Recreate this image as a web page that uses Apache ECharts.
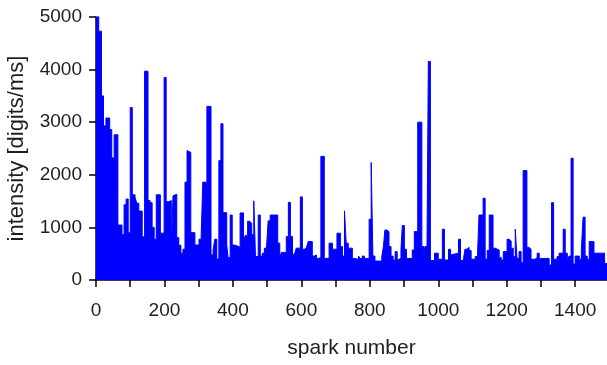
<!DOCTYPE html>
<html>
<head>
<meta charset="utf-8">
<title>Spark intensity</title>
<script src="https://cdn.jsdelivr.net/npm/echarts@6/dist/echarts.min.js"></script>
<style>
  html, body { margin: 0; padding: 0; background: #fff; }
  #chart { width: 607px; height: 365px; }
</style>
</head>
<body>
<div id="chart"></div>
<script>
// First spark number of each bin; the intensity holds until the next bin starts.
const binStart = [
  0, 8, 16, 22, 29, 40, 46, 53, 64, 76, 82, 88, 94, 100, 106, 114, 119, 125, 135, 142,
  152, 158, 164, 170, 176, 188, 199, 205, 213, 220, 225, 230, 236, 242, 248, 254, 260, 266, 271, 277,
  289, 301, 307, 312, 324, 336, 342, 347, 353, 359, 365, 371, 382, 386, 392, 398, 404, 414, 421, 431,
  436, 443, 449, 455, 461, 466, 474, 480, 486, 492, 498, 503, 509, 531, 537, 542, 556, 562, 568, 574,
  580, 585, 597, 603, 609, 615, 620, 632, 638, 644, 650, 657, 667, 681, 691, 704, 714, 720, 726, 731,
  737, 749, 755, 767, 772, 778, 784, 798, 804, 809, 815, 835, 840, 844, 850, 856, 862, 868, 874, 880,
  885, 891, 895, 901, 907, 924, 930, 940, 952, 958, 961, 967, 971, 977, 989, 1000, 1012, 1018, 1030, 1036,
  1041, 1059, 1065, 1073, 1078, 1084, 1090, 1096, 1108, 1114, 1119, 1131, 1137, 1143, 1149, 1160, 1166, 1178, 1184, 1190,
  1201, 1207, 1213, 1219, 1225, 1230, 1236, 1242, 1248, 1259, 1265, 1271, 1283, 1289, 1295, 1324, 1331, 1337, 1347, 1353,
  1365, 1371, 1377, 1382, 1388, 1394, 1400, 1412, 1418, 1423, 1429, 1435, 1441, 1455, 1486
];

// Intensity of each bin, digits/ms.
const intensity = [
  5050, 4730, 3500, 2930, 3080, 2860, 2320, 2760, 1045, 860, 1430, 1540, 900, 3280, 1620, 1575, 1460, 1310, 820, 3970,
  1510, 1470, 1000, 775, 1620, 890, 3850, 1490, 1510, 585, 1600, 1630, 805, 660, 510, 585, 1860, 2460, 2425, 900,
  665, 775, 750, 1860, 3300, 475, 560, 775, 400, 2270, 2970, 1280, 665, 425, 1235, 665, 645, 620, 1275, 760,
  845, 1115, 1080, 860, 1505, 445, 1235, 455, 510, 605, 635, 1125, 1235, 700, 445, 525, 825, 1475, 825, 490,
  525, 605, 1580, 585, 620, 585, 730, 455, 475, 410, 430, 2350, 410, 700, 585, 890, 635, 455, 1315, 700,
  605, 410, 395, 455, 410, 455, 410, 1155, 2235, 455, 360, 445, 645, 950, 920, 635, 455, 380, 540, 380,
  410, 585, 1035, 585, 410, 570, 920, 3000, 635, 445, 635, 585, 4155, 370, 510, 395, 965, 380, 585, 475,
  510, 775, 370, 395, 585, 620, 560, 395, 445, 370, 1235, 1555, 395, 560, 1235, 605, 570, 430, 380, 540,
  775, 740, 605, 445, 965, 410, 540, 330, 2080, 620, 585, 395, 430, 510, 410, 285, 1470, 395, 445, 510,
  965, 510, 370, 455, 2315, 305, 455, 395, 560, 1195, 455, 395, 730, 510, 315
];

const lastSpark = 1493;

// Step outline: each bin value starts at its bin start and runs to the next.
const stepData = binStart.map((s, i) => [s, intensity[i]]);
stepData.push([lastSpark, intensity[intensity.length - 1]]);

const textColor = '#1e1e1e';
const fontFamily = '"Liberation Sans", Arial, sans-serif';

const chart = echarts.init(document.getElementById('chart'), null, { renderer: 'canvas' });
chart.setOption({
  animation: false,
  backgroundColor: '#ffffff',
  grid: { left: 96, right: 0, top: 17, bottom: 85, containLabel: false, outerBoundsMode: 'none' },
  xAxis: {
    type: 'value',
    min: 0,
    max: lastSpark,
    interval: 100,
    name: 'spark number',
    nameLocation: 'middle',
    nameGap: 58,
    nameTextStyle: { color: textColor, fontSize: 21, fontFamily: fontFamily },
    axisLine: { show: true, onZero: false, lineStyle: { color: '#000', width: 1.5 } },
    axisTick: { show: true, inside: false, length: 7, lineStyle: { color: '#000', width: 1.5 } },
    axisLabel: {
      color: textColor, fontSize: 19, fontFamily: fontFamily, margin: 21,
      showMaxLabel: false,
      formatter: v => (v % 200 === 0 ? String(v) : '')
    },
    splitLine: { show: false }
  },
  yAxis: {
    type: 'value',
    min: 0,
    max: 5000,
    interval: 1000,
    name: 'intensity [digits/ms]',
    nameLocation: 'middle',
    nameRotate: 90,
    nameGap: 68,
    nameTextStyle: { color: textColor, fontSize: 22, fontFamily: fontFamily },
    axisLine: { show: true, lineStyle: { color: '#000', width: 1.5 } },
    axisTick: { show: true, inside: false, length: 7, lineStyle: { color: '#000', width: 1.5 } },
    axisLabel: { color: textColor, fontSize: 19, fontFamily: fontFamily, margin: 14, formatter: v => String(v) },
    splitLine: { show: false }
  },
  series: [{
    type: 'line',
    step: 'end',
    data: stepData,
    showSymbol: false,
    symbol: 'none',
    lineStyle: { color: '#0000ff', width: 1 },
    areaStyle: { color: '#0000ff', opacity: 1 },
    z: 1
  }]
});
</script>
</body>
</html>
